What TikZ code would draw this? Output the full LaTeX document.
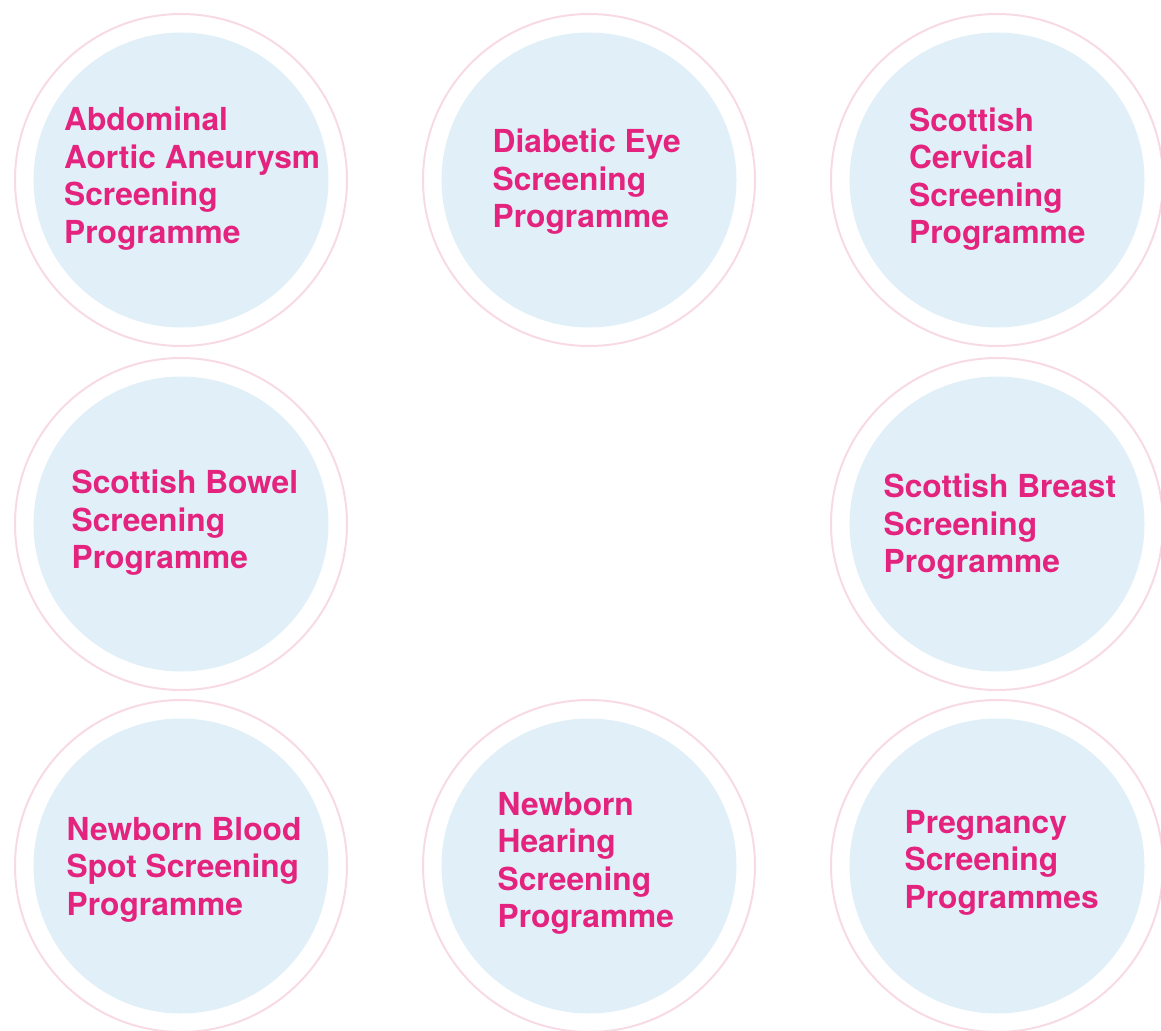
\documentclass[tikz,border=0pt]{standalone}
\usepackage{fontspec}
\setmainfont{TeX Gyre Heros}
\definecolor{pinktext}{HTML}{E4237E}
\definecolor{discfill}{HTML}{E1F0F8}
\definecolor{ringcol}{HTML}{F8DAE6}
\begin{document}
\begin{tikzpicture}[x=1pt,y=-1pt,
  ring/.style={circle,draw=ringcol,line width=2pt,minimum size=332pt,inner sep=0pt},
  disc/.style={circle,fill=discfill,minimum size=295pt,inner sep=0pt},
  label/.style={anchor=north west,inner sep=0pt,align=left,text=pinktext,
    font=\fontsize{31.7}{37.4}\selectfont\bfseries}]
\useasboundingbox (0,0) rectangle (1161,1030);
\begin{scope}
\clip (0,0) rectangle (1161,1030);
% row 1
\node[ring] (r1) at (181,180) {};
\node[disc] (c1) at (181,180) {};
\node[ring] (r2) at (589,180) {};
\node[disc] (c2) at (589,180) {};
\node[ring] (r3) at (997,180) {};
\node[disc] (c3) at (997,180) {};
% row 2
\node[ring] (r4) at (181,524) {};
\node[disc] (c4) at (181,524) {};
\node[ring] (r5) at (997,524) {};
\node[disc] (c5) at (997,524) {};
% row 3
\node[ring] (r6) at (181,866) {};
\node[disc] (c6) at (181,866) {};
\node[ring] (r7) at (589,866) {};
\node[disc] (c7) at (589,866) {};
\node[ring] (r8) at (997,866) {};
\node[disc] (c8) at (997,866) {};
\end{scope}
\node[label] (t1) at (64,107) {Abdominal\\Aortic Aneurysm\\Screening\\Programme};
\node[label] (t2) at (492.5,129) {Diabetic Eye\\Screening\\Programme};
\node[label] (t3) at (909,107.5) {Scottish\\Cervical\\Screening\\Programme};
\node[label] (t4) at (71.5,470) {Scottish Bowel\\Screening\\Programme};
\node[label] (t5) at (883.5,474) {Scottish Breast\\Screening\\Programme};
\node[label] (t6) at (66.5,817) {Newborn Blood\\Spot Screening\\Programme};
\node[label] (t7) at (497.5,792) {Newborn\\Hearing\\Screening\\Programme};
\node[label] (t8) at (904.5,810) {Pregnancy\\Screening\\Programmes};
\end{tikzpicture}
\end{document}
